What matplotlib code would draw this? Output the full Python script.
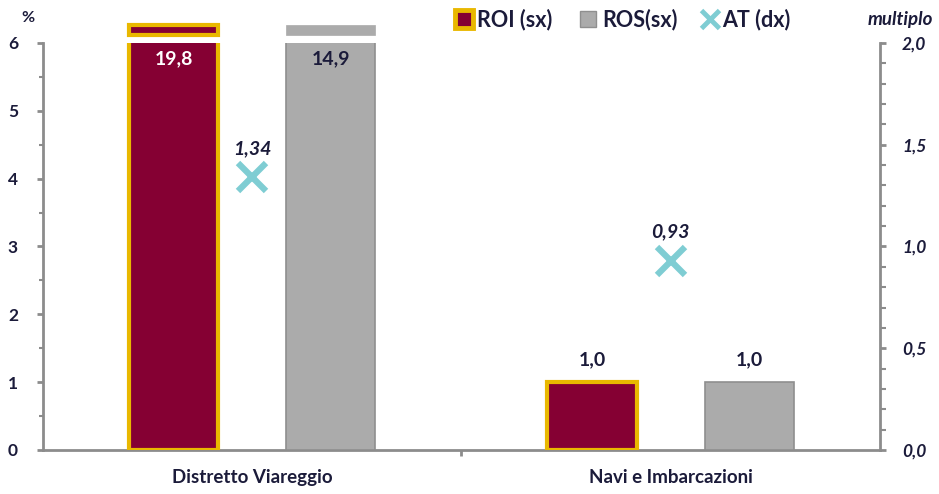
import matplotlib
matplotlib.use("Agg")
import matplotlib.pyplot as plt
from matplotlib.lines import Line2D
from matplotlib.patches import Rectangle
from matplotlib.ticker import MultipleLocator, FixedLocator


categories = ["Distretto Viareggio", "Navi e Imbarcazioni"]
roi = [19.8, 1.0]
ros = [14.9, 1.0]
at = [1.34, 0.93]
roi_labels = ["19,8", "1,0"]
ros_labels = ["14,9", "1,0"]
at_labels = ["1,34", "0,93"]

left_ticks = [0, 1, 2, 3, 4, 5, 6]
right_ticks = [0.0, 0.5, 1.0, 1.5, 2.0]
right_tick_labels = ["0,0", "0,5", "1,0", "1,5", "2,0"]

ROI_FACE = "#850033"
ROI_EDGE = "#E9B800"
ROS_FACE = "#ABABAB"
ROS_EDGE = "#8F8F8F"
AT_COLOR = "#7FCDD3"
AXIS_COLOR = "#8C8C8C"
TEXT_COLOR = "#1B1B3A"

plt.rcParams["font.family"] = ["Lato", "DejaVu Sans"]

fig = plt.figure(figsize=(9.39, 4.94), dpi=100)
ax = fig.add_axes([0.0458, 0.0891, 0.8912, 0.8240])
ax2 = ax.twinx()

ymax = 6
ax.set_xlim(0, 2)
ax.set_ylim(0, ymax)
ax2.set_ylim(0, 2)

centers = [0.5, 1.5]
offset = 0.188
width = 0.213

roi_x = [c - offset for c in centers]
ros_x = [c + offset for c in centers]

ax.bar(roi_x, roi, width=width, color=ROI_FACE, edgecolor=ROI_EDGE, linewidth=3, zorder=3)
ax.bar(ros_x, ros, width=width, color=ROS_FACE, edgecolor=ROS_EDGE, linewidth=1.2, zorder=3)

# broken bars: little cap drawn above the top of the axis
cap_lo, cap_hi = ymax + 0.11, ymax + 0.27
for xs, vals, face, edge, lw in [(roi_x, roi, ROI_FACE, ROI_EDGE, 3), (ros_x, ros, ROS_FACE, ROS_FACE, 0.5)]:
    for x, v in zip(xs, vals):
        if v > ymax:
            ax.add_patch(Rectangle((x - width / 2, cap_lo), width, cap_hi - cap_lo, facecolor=face,
                                   edgecolor=edge, linewidth=lw, clip_on=False, zorder=3))

# value labels
for x, v, lab in zip(roi_x, roi, roi_labels):
    if v > ymax:
        ax.text(x, ymax - 0.23, lab, ha="center", va="center", color="white", fontsize=14, fontweight="bold", zorder=5)
    else:
        ax.text(x, v + 0.2, lab, ha="center", va="bottom", color=TEXT_COLOR, fontsize=14, fontweight="bold")
for x, v, lab in zip(ros_x, ros, ros_labels):
    if v > ymax:
        ax.text(x, ymax - 0.23, lab, ha="center", va="center", color=TEXT_COLOR, fontsize=14, fontweight="bold", zorder=5)
    else:
        ax.text(x, v + 0.2, lab, ha="center", va="bottom", color=TEXT_COLOR, fontsize=14, fontweight="bold")

ax2.plot(centers, at, linestyle="none", marker="x", markersize=20, markeredgewidth=4.5, color=AT_COLOR, zorder=4)
for x, v, lab in zip(centers, at, at_labels):
    ax2.text(x, v + 0.1, lab, ha="center", va="bottom", color=TEXT_COLOR, fontsize=14,
             fontweight="bold", fontstyle="italic")

# axes styling
for a in (ax, ax2):
    a.spines["top"].set_visible(False)
    for side in ("left", "right", "bottom"):
        a.spines[side].set_color(AXIS_COLOR)
        a.spines[side].set_linewidth(2)
ax.spines["right"].set_visible(False)
ax2.spines["left"].set_visible(False)
ax2.spines["bottom"].set_visible(False)

ax.yaxis.set_major_locator(FixedLocator(left_ticks))
ax.yaxis.set_minor_locator(MultipleLocator(0.5))
ax.tick_params(axis="y", which="major", length=4, width=2, color=AXIS_COLOR, labelsize=12.5,
               labelcolor=TEXT_COLOR, pad=14)
ax.tick_params(axis="y", which="minor", length=3, width=1.5, color=AXIS_COLOR)
for lab in ax.get_yticklabels():
    lab.set_fontweight("bold")

ax2.yaxis.set_major_locator(FixedLocator(right_ticks))
ax2.set_yticklabels(right_tick_labels)
ax2.yaxis.set_minor_locator(MultipleLocator(0.1))
ax2.tick_params(axis="y", which="major", length=4, width=2, color=AXIS_COLOR, labelsize=12.5,
                labelcolor=TEXT_COLOR, pad=12)
ax2.tick_params(axis="y", which="minor", length=4, width=1.5, color=AXIS_COLOR)
for lab in ax2.get_yticklabels():
    lab.set_fontweight("bold")
    lab.set_fontstyle("italic")

ax.set_xticks(centers)
ax.set_xticklabels(categories)
ax.xaxis.set_minor_locator(FixedLocator([1]))
ax.tick_params(axis="x", which="major", length=0, labelsize=13.5, labelcolor=TEXT_COLOR, pad=14)
ax.tick_params(axis="x", which="minor", length=4, width=2, color=AXIS_COLOR)
for lab in ax.get_xticklabels():
    lab.set_fontweight("bold")

fig.text(0.023, 0.963, "%", ha="left", va="center", color=TEXT_COLOR, fontsize=11.5, fontweight="bold")
fig.text(0.994, 0.961, "multiplo", ha="right", va="center", color=TEXT_COLOR, fontsize=13.5,
         fontweight="bold", fontstyle="italic")

# legend drawn along the top
ly = 0.961
fig.add_artist(Line2D([0.494], [ly], transform=fig.transFigure, marker="s", markersize=13,
                      markerfacecolor=ROI_FACE, markeredgecolor=ROI_EDGE, markeredgewidth=3.5, linestyle="none"))
fig.text(0.508, ly, "ROI (sx)", ha="left", va="center", color=TEXT_COLOR, fontsize=15.5, fontweight="bold")
fig.add_artist(Line2D([0.626], [ly], transform=fig.transFigure, marker="s", markersize=11,
                      markerfacecolor=ROS_FACE, markeredgecolor=ROS_EDGE, markeredgewidth=1, linestyle="none"))
fig.text(0.641, ly, "ROS(sx)", ha="left", va="center", color=TEXT_COLOR, fontsize=15.5, fontweight="bold")
fig.add_artist(Line2D([0.756], [ly], transform=fig.transFigure, marker="x", markersize=13,
                      markeredgewidth=3.5, color=AT_COLOR, linestyle="none"))
fig.text(0.769, ly, "AT (dx)", ha="left", va="center", color=TEXT_COLOR, fontsize=15.5, fontweight="bold")

fig.savefig("out.png", dpi=100)
